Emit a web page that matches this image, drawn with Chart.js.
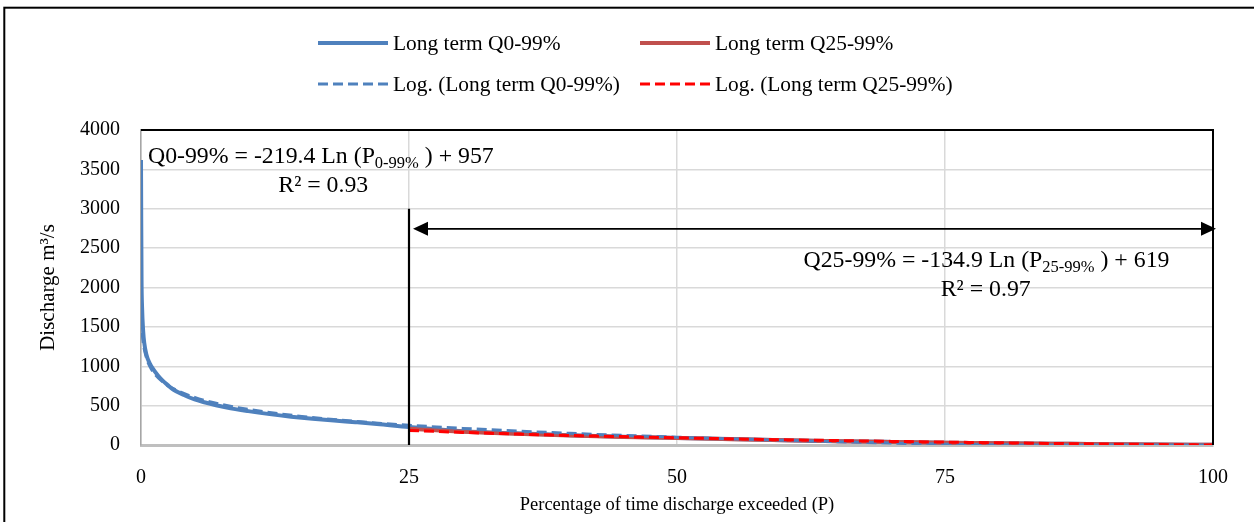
<!DOCTYPE html>
<html>
<head>
<meta charset="utf-8">
<script src="https://cdn.jsdelivr.net/npm/chart.js@4.4.1/dist/chart.umd.min.js"></script>
<style>
html, body { margin: 0; padding: 0; background: #fff; }
#wrap { width: 1254px; height: 522px; }
</style>
</head>
<body>
<div id="wrap"><canvas id="fdc" width="1254" height="522"></canvas></div>
<script>
// flow duration curve, long term
const blueP = [0, 0.02, 0.05, 0.1, 0.2, 0.3, 0.5, 0.8, 1.2, 1.6, 2, 2.5, 3, 4, 5, 6, 7, 8, 10, 12, 14, 16, 18, 20, 22, 25, 30, 35, 40, 45, 50, 55, 60, 65, 70, 75, 80, 85, 90, 95, 100];
const blueQ = [3620, 2900, 2100, 1750, 1450, 1300, 1150, 1040, 950, 880, 820, 760, 705, 635, 578, 540, 505, 475, 430, 392, 360, 333, 310, 290, 268, 228, 176, 148, 125, 106, 90, 75, 61, 49, 39, 30, 23, 17, 11, 6, 2];

const redP = [25, 30, 35, 40, 45, 50, 55, 60, 65, 70, 75, 80, 85, 90, 95, 100];
const redQ = [205, 168, 143, 122, 103, 88, 74, 60, 48, 38, 30, 23, 17, 11, 6, 2];

// logarithmic trend lines as they appear on the chart
const blueTrendP = [0.05, 0.1, 0.2, 0.5, 1, 2, 3, 5, 7.5, 10, 15, 20, 25, 30, 40, 50, 60, 70, 75, 80, 85, 90, 100];
const blueTrendQ = [1615, 1460, 1310, 1110, 957, 805, 716, 604, 515, 452, 363, 300, 251, 211, 148, 99, 59, 25, 10, 3, 0, 0, 0];
const redTrendP = [25, 30, 35, 40, 50, 60, 70, 75, 80, 90, 100];
const redTrendQ = [185, 160, 139, 121, 91, 67, 46, 37, 28, 12, 0];

const xTicks = [0, 25, 50, 75, 100];
const yTicks = [0, 500, 1000, 1500, 2000, 2500, 3000, 3500, 4000];

const seriesNames = ['Long term Q0-99%', 'Long term Q25-99%', 'Log. (Long term Q0-99%)', 'Log. (Long term Q25-99%)'];

// annotation anchors (data units)
const splitP = 25;
const splitTopQ = 3000;
const arrowQ = 2745;

const serif = "'Times New Roman', 'Liberation Serif', serif";
const eqSize = 23.8;

function pts(xs, ys) {
  return xs.map((x, i) => ({ x: x, y: ys[i] }));
}

const extras = {
  id: 'extras',
  afterDatasetsDraw(chart) {
    const ctx = chart.ctx;
    const xs = chart.scales.x, ys = chart.scales.y;
    const a = chart.chartArea;
    ctx.save();
    // top + right frame of the plot area
    ctx.strokeStyle = '#000';
    ctx.lineWidth = 2;
    ctx.beginPath();
    ctx.moveTo(a.left, a.top);
    ctx.lineTo(a.right, a.top);
    ctx.lineTo(a.right, a.bottom);
    ctx.stroke();

    // vertical split at 25%
    const sx = xs.getPixelForValue(splitP);
    ctx.lineWidth = 2.2;
    ctx.beginPath();
    ctx.moveTo(sx, ys.getPixelForValue(splitTopQ));
    ctx.lineTo(sx, ys.getPixelForValue(0));
    ctx.stroke();

    // double arrow 25 -> 100
    const ay = ys.getPixelForValue(arrowQ);
    const x1 = sx + 4, x2 = xs.getPixelForValue(100) + 3;
    ctx.lineWidth = 1.8;
    ctx.beginPath();
    ctx.moveTo(x1 + 10, ay);
    ctx.lineTo(x2 - 10, ay);
    ctx.stroke();
    ctx.fillStyle = '#000';
    ctx.beginPath();
    ctx.moveTo(x1, ay); ctx.lineTo(x1 + 15, ay - 7); ctx.lineTo(x1 + 15, ay + 7); ctx.closePath();
    ctx.fill();
    ctx.beginPath();
    ctx.moveTo(x2, ay); ctx.lineTo(x2 - 15, ay - 7); ctx.lineTo(x2 - 15, ay + 7); ctx.closePath();
    ctx.fill();

    // equations
    drawEq(ctx, xs.getPixelForValue(0.65), ys.getPixelForValue(3580), 'Q0-99% = -219.4 Ln (P', '0-99%', ' ) + 957');
    ctx.font = eqSize + 'px ' + serif;
    ctx.textAlign = 'center';
    ctx.fillText('R\u00B2 = 0.93', xs.getPixelForValue(17), ys.getPixelForValue(3210));
    drawEq(ctx, xs.getPixelForValue(61.8), ys.getPixelForValue(2260), 'Q25-99% = -134.9 Ln (P', '25-99%', ' ) + 619');
    ctx.font = eqSize + 'px ' + serif;
    ctx.textAlign = 'center';
    ctx.fillText('R\u00B2 = 0.97', xs.getPixelForValue(78.8), ys.getPixelForValue(1890));
    ctx.restore();
  },
  afterDraw(chart) {
    const ctx = chart.ctx;
    ctx.save();
    // outer frame, cut at right and bottom
    ctx.strokeStyle = '#000';
    ctx.lineWidth = 2;
    ctx.strokeRect(4.3, 7.7, 1400, 600);

    // legend, two by two
    const ds = chart.data.datasets;
    ds.forEach((d, i) => {
      const lx = i % 2 === 0 ? 318 : 640;
      const ly = i < 2 ? 43 : 84;
      ctx.strokeStyle = d.borderColor;
      ctx.lineWidth = d.borderWidth;
      ctx.setLineDash(d.borderDash || []);
      ctx.beginPath();
      ctx.moveTo(lx, ly);
      ctx.lineTo(lx + 70, ly);
      ctx.stroke();
      ctx.setLineDash([]);
      ctx.fillStyle = '#000';
      ctx.font = '21.4px ' + serif;
      ctx.textAlign = 'left';
      ctx.textBaseline = 'middle';
      ctx.fillText(d.label, lx + 75, ly + 1);
    });
    ctx.restore();
  }
};

function drawEq(ctx, x, y, head, sub, tail) {
  ctx.fillStyle = '#000';
  ctx.textAlign = 'left';
  ctx.textBaseline = 'alphabetic';
  ctx.font = eqSize + 'px ' + serif;
  ctx.fillText(head, x, y);
  let w = ctx.measureText(head).width;
  ctx.font = '16.5px ' + serif;
  ctx.fillText(sub, x + w, y + 5);
  w += ctx.measureText(sub).width;
  ctx.font = eqSize + 'px ' + serif;
  ctx.fillText(tail, x + w, y);
}

const blue = '#4F81BD';

new Chart(document.getElementById('fdc'), {
  type: 'line',
  data: {
    datasets: [
      { label: seriesNames[0], data: pts(blueP, blueQ), borderColor: blue, borderWidth: 4, order: 4 },
      { label: seriesNames[1], data: pts(redP, redQ), borderColor: '#C0504D', borderWidth: 4, order: 3 },
      { label: seriesNames[2], data: pts(blueTrendP, blueTrendQ), borderColor: blue, borderWidth: 3, borderDash: [10, 5], order: 2 },
      { label: seriesNames[3], data: pts(redTrendP, redTrendQ), borderColor: '#FF0000', borderWidth: 3, borderDash: [10, 5], order: 1 }
    ]
  },
  options: {
    responsive: false,
    animation: false,
    devicePixelRatio: 1,
    layout: { padding: { left: 0, top: 130, right: 41, bottom: 0 } },
    elements: {
      point: { radius: 0 },
      line: { cubicInterpolationMode: 'monotone', fill: false }
    },
    plugins: { legend: { display: false }, tooltip: { enabled: false } },
    scales: {
      x: {
        type: 'linear', min: 0, max: 100,
        afterBuildTicks: s => { s.ticks = xTicks.map(v => ({ value: v })); },
        afterFit: s => { s.height = 77; },
        grid: { color: '#D9D9D9', lineWidth: 1.5, drawTicks: false },
        border: { color: '#BFBFBF', width: 3 },
        ticks: { color: '#000', padding: 21, font: { family: serif, size: 20 }, callback: v => String(v) },
        title: { display: true, text: 'Percentage of time discharge exceeded (P)', color: '#000', font: { family: serif, size: 18.5 }, padding: { top: 0, bottom: 6 } }
      },
      y: {
        min: 0, max: 4000,
        afterBuildTicks: s => { s.ticks = yTicks.map(v => ({ value: v })); },
        afterFit: s => { s.width = 141; },
        grid: { color: '#D9D9D9', lineWidth: 1.5, drawTicks: false },
        border: { color: '#A6A6A6', width: 1.5 },
        ticks: { color: '#000', padding: 21, font: { family: serif, size: 20 }, callback: v => String(v) },
        title: { display: true, text: 'Discharge m\u00B3/s', color: '#000', font: { family: serif, size: 21 }, padding: { top: 36, bottom: 0 } }
      }
    }
  },
  plugins: [extras]
});
</script>
</body>
</html>
